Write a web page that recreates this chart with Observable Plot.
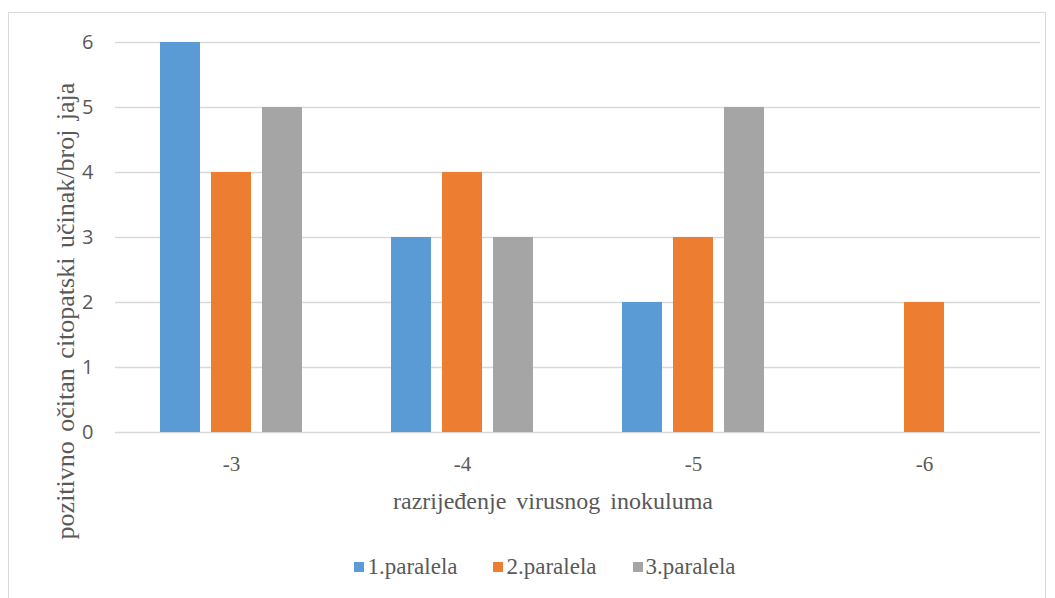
<!DOCTYPE html>
<html>
<head>
<meta charset="utf-8">
<script src="https://cdn.jsdelivr.net/npm/d3@7"></script>
<script src="https://cdn.jsdelivr.net/npm/@observablehq/plot@0.6"></script>
<style>
  html, body { margin: 0; padding: 0; background: #fff; }
  #wrap { position: relative; width: 1055px; height: 598px; overflow: hidden; }
  #frame { position: absolute; left: 8px; top: 12px; width: 1038px; height: 600px; border: 1.5px solid #d9d9d9; box-sizing: border-box; }
  .layer { position: absolute; left: 0; top: 0; }
  #ylabel { position: absolute; left: 66px; top: 311px; transform: translate(-50%, -50%) rotate(-90deg); white-space: nowrap;
    font-family: "Liberation Serif", "Times New Roman", serif; font-size: 26px; color: #595959; word-spacing: 3px; }
  #xlabel { position: absolute; left: 553px; top: 501px; transform: translate(-50%, -50%); white-space: nowrap;
    font-family: "Liberation Serif", "Times New Roman", serif; font-size: 24px; color: #595959; word-spacing: 4px; }
  #legend { position: absolute; left: 0; width: 1090px; top: 567px; transform: translateY(-50%); display: flex; justify-content: center; gap: 36px;
    font-family: "Liberation Serif", "Times New Roman", serif; font-size: 23px; color: #595959; }
  #legend .item { display: flex; align-items: center; gap: 3px; }
  #legend .sw { width: 10px; height: 10px; display: inline-block; }
</style>
</head>
<body>
<div id="wrap">
  <div id="frame"></div>
  <div id="grid" class="layer"></div>
  <div id="chart" class="layer"></div>
  <div id="ylabel">pozitivno očitan citopatski učinak/broj jaja</div>
  <div id="xlabel">razrijeđenje virusnog inokuluma</div>
  <div id="legend"></div>
</div>
<script>
const categories = ["-3", "-4", "-5", "-6"];
const series = ["1.paralela", "2.paralela", "3.paralela"];
const paralela1 = [6, 3, 2, 0];
const paralela2 = [4, 4, 3, 2];
const paralela3 = [5, 3, 5, 0];
const colors = ["#5B9BD5", "#ED7D31", "#A5A5A5"];
const yTicks = [0, 1, 2, 3, 4, 5, 6];

const valuesBySeries = [paralela1, paralela2, paralela3];
const data = [];
categories.forEach((c, i) => {
  series.forEach((s, j) => {
    data.push({ cat: c, series: s, value: valuesBySeries[j][i] });
  });
});

const common = {
  width: 1055,
  height: 470,
  marginLeft: 115,
  marginRight: 15,
  marginTop: 42,
  marginBottom: 38,
  style: { background: "transparent", overflow: "visible" },
  y: { domain: [0, 6], label: null }
};

// Gridlines spanning the full plot width (drawn without facets)
const grid = Plot.plot({
  ...common,
  x: { axis: null },
  marks: [
    Plot.ruleY(yTicks, { stroke: "#d9d9d9", strokeWidth: 1.5 }),
    Plot.axisY(yTicks, { tickSize: 0, tickPadding: 22, fontSize: 20, fill: "#595959", label: null,
      tickFormat: d3.format("d"), fontFamily: "'Open Sans', 'Liberation Sans', sans-serif" })
  ]
});
document.getElementById("grid").appendChild(grid);

// Grouped bars
const chart = Plot.plot({
  ...common,
  fx: { domain: categories, paddingInner: 0.386, paddingOuter: 0.193, label: null },
  x: { domain: series, paddingInner: 0.216, paddingOuter: 0, axis: null },
  color: { domain: series, range: colors },
  marks: [
    Plot.barY(data, { fx: "cat", x: "series", y: "value", fill: "series" }),
    Plot.axisFx({ anchor: "bottom", tickSize: 0, tickPadding: 24, fontSize: 21, fill: "#595959", label: null,
      fontFamily: "'Liberation Serif', 'Times New Roman', serif" })
  ]
});
chart.querySelectorAll("[aria-label='y-axis tick'], [aria-label='y-axis tick label']").forEach(n => n.remove());
document.getElementById("chart").appendChild(chart);

const legend = document.getElementById("legend");
series.forEach((s, i) => {
  const item = document.createElement("span");
  item.className = "item";
  const sw = document.createElement("span");
  sw.className = "sw";
  sw.style.background = colors[i];
  item.appendChild(sw);
  item.appendChild(document.createTextNode(s));
  legend.appendChild(item);
});
</script>
</body>
</html>
